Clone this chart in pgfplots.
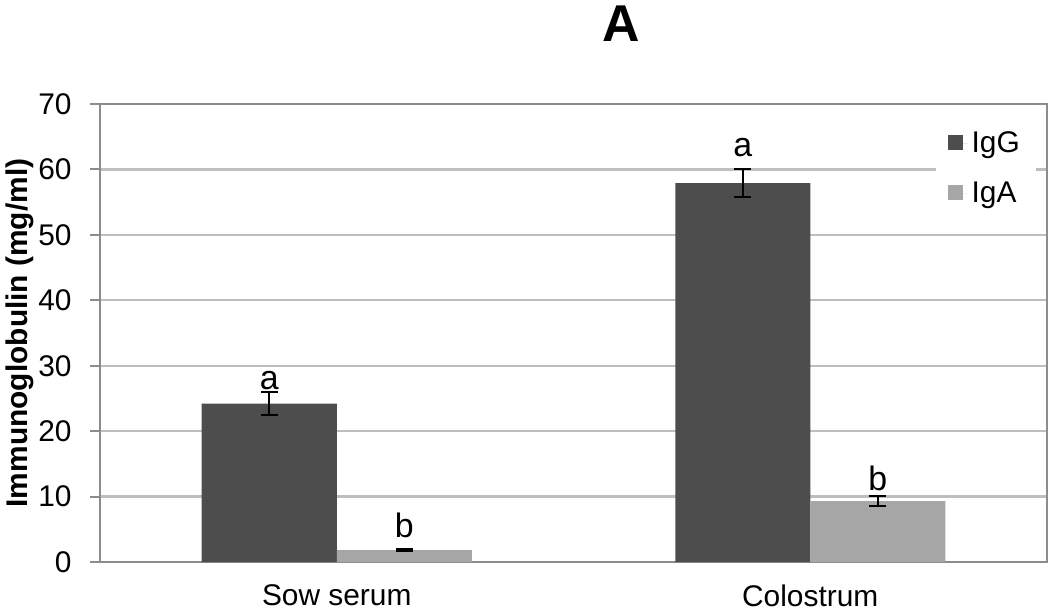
\documentclass[border=0pt]{standalone}
\usepackage{pgfplots}
\pgfplotsset{compat=1.18}
\usepackage{fontspec}
\setmainfont{Liberation Sans}
\definecolor{darkbar}{HTML}{4D4D4D}
\definecolor{lightbar}{HTML}{A6A6A6}
\definecolor{gridgray}{HTML}{BEBEBE}
\definecolor{axisgray}{HTML}{8C8C8C}
\begin{document}
\begin{tikzpicture}
\path[use as bounding box] (-50bp,-24.5bp) rectangle (475bp,281bp);
\begin{axis}[
  at={(0,0)}, anchor=south west,
  scale only axis, width=473.5bp, height=229bp,
  clip=false,
  ybar=0pt, bar width=67.5bp,
  xmin=-0.5, xmax=1.5, ymin=0, ymax=70,
  xtick={0,1}, xticklabels={Sow serum, Colostrum},
  ytick={0,10,...,70},
  xtick style={draw=none},
  ytick pos=left, tick align=outside, major tick length=5bp,
  ytick style={draw=axisgray, line width=1bp},
  ymajorgrids, grid style={draw=gridgray, line width=1.2bp},
  axis line style={draw=axisgray, line width=1bp},
  tick label style={font=\fontsize{15}{18}\selectfont},
  yticklabel style={inner sep=0pt, xshift=-9bp},
  xticklabel style={inner sep=0pt, yshift=-6.3bp},
  /pgf/number format/assume math mode=true,
  ylabel={Immunoglobulin (mg/ml)},
  every axis y label/.style={at={(rel axis cs:0,0.5)}, xshift=-40bp, rotate=90, anchor=center,
    font=\bfseries\fontsize{15}{18}\selectfont},
  legend style={draw=none, fill=white, at={(rel axis cs:0.882,0.975)}, anchor=north west,
    font=\fontsize{15}{18}\selectfont, row sep=9bp, inner xsep=6bp, inner ysep=6bp},
  legend cell align=left,
]
\addplot[fill=darkbar, draw=none,
  legend image code/.code={\fill[darkbar] (0bp,-3.2bp) rectangle (7.5bp,4.3bp); \path (0bp,0bp) -- (10bp,0bp);},
  error bars/.cd, y dir=both, y explicit,
  error bar style={line width=1bp, black},
  error mark options={rotate=90, mark size=4.25bp, line width=1bp, black}]
  coordinates {(0,24.2) +- (0,1.8) (1,57.9) +- (0,2.1)};
\addlegendentry{IgG}
\addplot[fill=lightbar, draw=none,
  legend image code/.code={\fill[lightbar] (0bp,-3.2bp) rectangle (7.5bp,4.3bp); \path (0bp,0bp) -- (10bp,0bp);},
  error bars/.cd, y dir=both, y explicit,
  error bar style={line width=1bp, black},
  error mark options={rotate=90, mark size=4.25bp, line width=1bp, black}]
  coordinates {(0,1.8) +- (0,0.15) (1,9.3) +- (0,0.8)};
\addlegendentry{IgA}
\node[anchor=base, font=\fontsize{17}{20}\selectfont] at (axis cs:-0.1426,26.4) {a};
\node[anchor=base, font=\fontsize{17}{20}\selectfont] at (axis cs:0.1426,3.7) {b};
\node[anchor=base, font=\fontsize{17}{20}\selectfont] at (axis cs:0.8574,61.9) {a};
\node[anchor=base, font=\fontsize{17}{20}\selectfont] at (axis cs:1.1426,11.0) {b};
\node[anchor=base, font=\bfseries\fontsize{26}{30}\selectfont] at (rel axis cs:0.55,1) [yshift=31bp] {A};
\end{axis}
\end{tikzpicture}
\end{document}
